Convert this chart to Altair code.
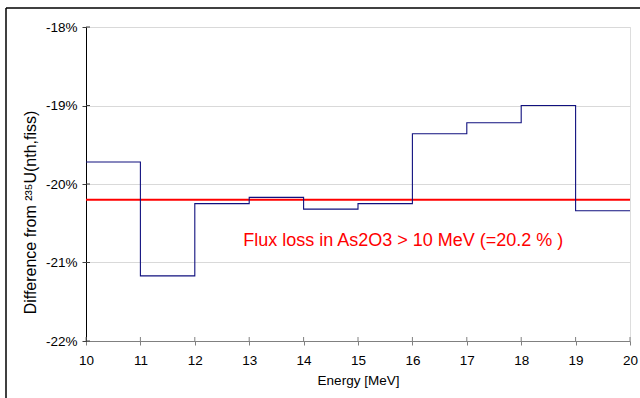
import altair as alt
import pandas as pd

# Bin edges (MeV) and relative difference per 1-MeV bin (%)
energy_edges = [10, 11, 12, 13, 14, 15, 16, 17, 18, 19, 20]
diff_pct = [-19.72, -21.17, -20.25, -20.17, -20.32, -20.25, -19.36, -19.22, -19.00, -20.34]
y_ticks_pct = [-22, -21, -20, -19, -18]
flux_loss_pct = -20.2
flux_label = "Flux loss in As2O3 > 10 MeV (=20.2 % )"

FONT = "Liberation Sans"
W, H = 544, 314

# Step line: each bin value starts at its lower edge; the last value is held to the upper edge
step_df = pd.DataFrame({
    "energy": energy_edges,
    "diff": [v / 100 for v in diff_pct] + [diff_pct[-1] / 100],
})

x_scale = alt.Scale(domain=[10, 20], nice=False, zero=False)
y_scale = alt.Scale(domain=[-0.22, -0.18], nice=False, zero=False)

steps = alt.Chart(step_df).mark_line(
    interpolate="step-after", color="#10107f", strokeWidth=1.1
).encode(
    x=alt.X("energy:Q", scale=x_scale,
            axis=alt.Axis(title="Energy [MeV]", values=energy_edges,
                          format="d", grid=False, domainColor="#808080",
                          tickColor="#808080", tickSize=4, labelPadding=8,
                          labelFlush=False, labelFontSize=13.5, labelFont=FONT,
                          labelColor="black", titleFont=FONT, titleFontSize=13.5,
                          titleFontWeight="normal", titleColor="black",
                          titlePadding=7)),
    y=alt.Y("diff:Q", scale=y_scale,
            axis=alt.Axis(title="Difference from \u00b2\u00b3\u2075U(nth,fiss)",
                          values=[v / 100 for v in y_ticks_pct], format=".0%",
                          labelExpr="replace(datum.label, '\u2212', '-')",
                          grid=True, gridColor="#d9d9d9", gridWidth=1,
                          domainColor="black", tickColor="#404040", tickSize=4,
                          labelPadding=5, labelFontSize=13.5, labelFont=FONT,
                          labelColor="black", labelFlush=False, titleFont=FONT,
                          titleFontSize=16, titleFontWeight="normal",
                          titleColor="black", titleAngle=270, titleX=-56,
                          titleY=185, titleAlign="center", titleBaseline="middle")),
)

# Tick stubs on the inner side of both axes (ticks cross the axis lines)
xtick_df = pd.DataFrame({"energy": energy_edges})
x_inner_ticks = alt.Chart(xtick_df).mark_rule(color="#808080").encode(
    x=alt.X("energy:Q", scale=x_scale), y=alt.value(H), y2=alt.value(H - 4)
)
ytick_df = pd.DataFrame({"diff": [v / 100 for v in y_ticks_pct]})
y_inner_ticks = alt.Chart(ytick_df).mark_rule(color="#404040").encode(
    y=alt.Y("diff:Q", scale=y_scale), x=alt.value(0), x2=alt.value(4)
)

ref_df = pd.DataFrame({"diff": [flux_loss_pct / 100]})
ref_line = alt.Chart(ref_df).mark_rule(color="#ff0000", strokeWidth=2).encode(
    y=alt.Y("diff:Q", scale=y_scale)
)

label_df = pd.DataFrame({"energy": [12.89], "diff": [-0.2072], "text": [flux_label]})
label = alt.Chart(label_df).mark_text(
    align="left", baseline="middle", color="#ff0000", fontSize=18, font=FONT
).encode(x=alt.X("energy:Q", scale=x_scale), y=alt.Y("diff:Q", scale=y_scale), text="text:N")

# Outer chart frame (top and left edges)
frame_top = alt.Chart(ref_df).mark_rule(color="black", strokeWidth=1.5, clip=False).encode(
    x=alt.value(-80), x2=alt.value(560), y=alt.value(-19)
)
frame_left = alt.Chart(ref_df).mark_rule(color="black", strokeWidth=1.5, clip=False).encode(
    x=alt.value(-80), y=alt.value(-19), y2=alt.value(380)
)

chart = alt.layer(
    ref_line, steps, x_inner_ticks, y_inner_ticks, label, frame_top, frame_left
).properties(
    width=W, height=H,
    autosize=alt.AutoSizeParams(type="none"),
    padding={"left": 86, "top": 27, "right": 10, "bottom": 57},
).configure_view(stroke=None).configure(background="white")

chart.save("out.html", embed_options={"renderer": "svg", "actions": False})
